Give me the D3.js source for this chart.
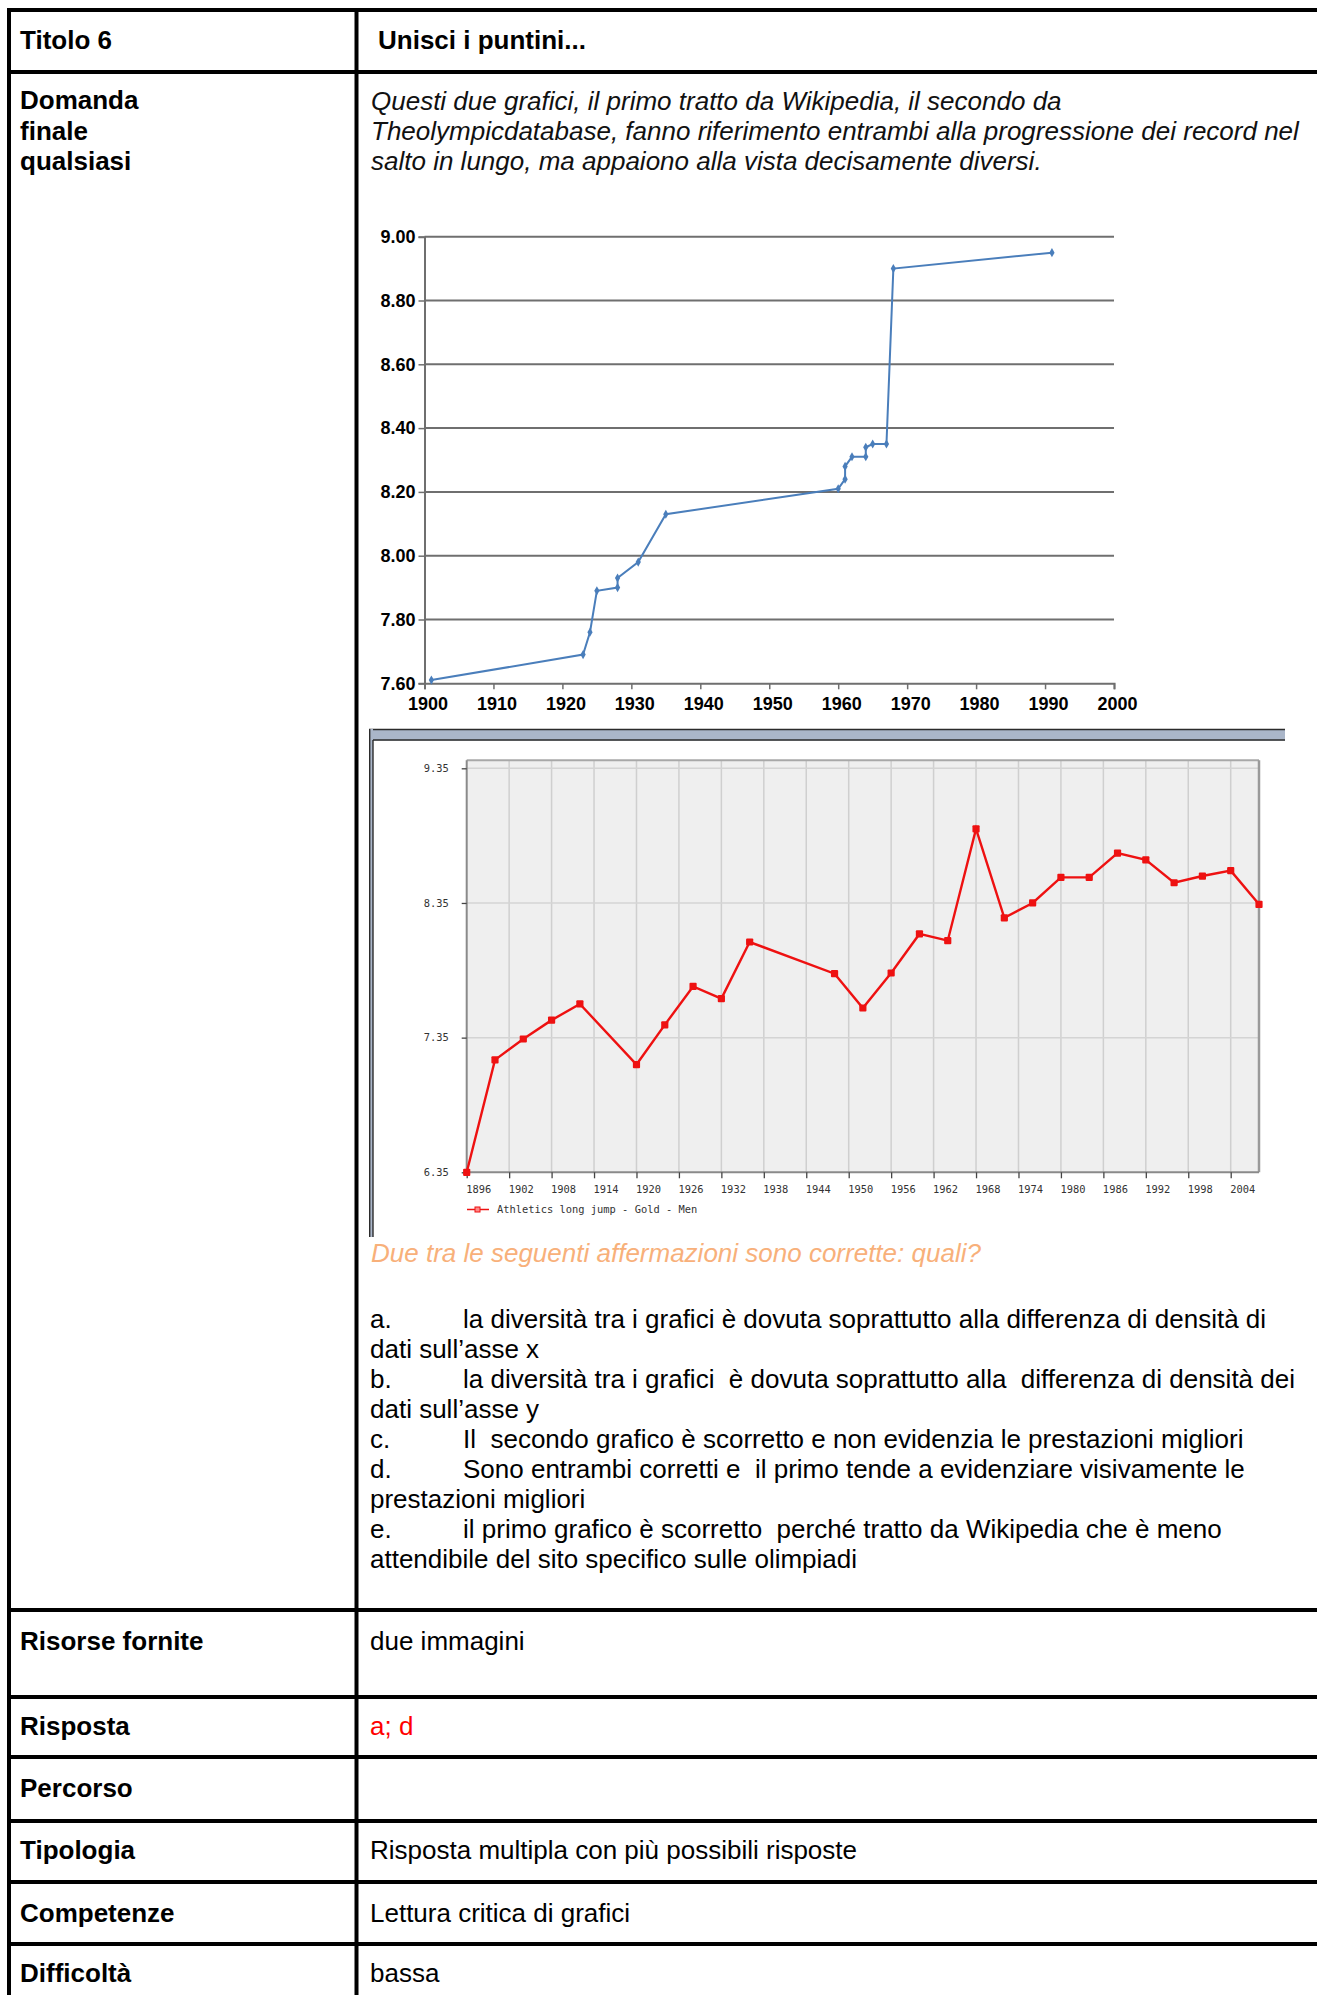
<!DOCTYPE html>
<html><head><meta charset="utf-8">
<script src="https://cdn.jsdelivr.net/npm/d3@7"></script>
<style>
html,body{margin:0;padding:0;background:#fff;}
svg text{white-space:pre;}
</style></head>
<body>
<script>
// ---------- DATA ----------
// Chart 1: world record progression (Wikipedia)
const wikiYears = [1901, 1923, 1924, 1925, 1928, 1928, 1931, 1935, 1960, 1961, 1961, 1962, 1964, 1964, 1965, 1967, 1968, 1991];
const wikiMarks = [7.61, 7.69, 7.76, 7.89, 7.90, 7.93, 7.98, 8.13, 8.21, 8.24, 8.28, 8.31, 8.31, 8.34, 8.35, 8.35, 8.90, 8.95];
const wikiYTicks = [7.6, 7.8, 8.0, 8.2, 8.4, 8.6, 8.8, 9.0];
const wikiXTicks = [1900, 1910, 1920, 1930, 1940, 1950, 1960, 1970, 1980, 1990, 2000];

// Chart 2: Olympic gold, men's long jump (Theolympicdatabase)
const olyYears = [1896, 1900, 1904, 1908, 1912, 1920, 1924, 1928, 1932, 1936, 1948, 1952, 1956, 1960, 1964, 1968, 1972, 1976, 1980, 1984, 1988, 1992, 1996, 2000, 2004, 2008];
const olyMarks = [6.35, 7.185, 7.34, 7.48, 7.60, 7.15, 7.445, 7.73, 7.64, 8.06, 7.825, 7.57, 7.83, 8.12, 8.07, 8.90, 8.24, 8.35, 8.54, 8.54, 8.72, 8.67, 8.50, 8.55, 8.59, 8.34];
const olyYTicks = [6.35, 7.35, 8.35, 9.35];
const olyXTicks = [1896, 1902, 1908, 1914, 1920, 1926, 1932, 1938, 1944, 1950, 1956, 1962, 1968, 1974, 1980, 1986, 1992, 1998, 2004];
const olyLegend = "Athletics long jump - Gold - Men";

// Table texts
const rowLabels = ["Titolo 6", "Domanda", "finale", "qualsiasi", "Risorse fornite", "Risposta", "Percorso", "Tipologia", "Competenze", "Difficoltà"];
const introLines = [
  "Questi due grafici, il primo tratto da Wikipedia, il secondo da",
  "Theolympicdatabase, fanno riferimento entrambi alla progressione dei record nel",
  "salto in lungo, ma appaiono alla vista decisamente diversi."
];
const question = "Due tra le seguenti affermazioni sono corrette: quali?";
const options = [
  ["a.", "la diversità tra i grafici è dovuta soprattutto alla differenza di densità di", "dati sull\u2019asse x"],
  ["b.", "la diversità tra i grafici  è dovuta soprattutto alla  differenza di densità dei", "dati sull\u2019asse y"],
  ["c.", "Il  secondo grafico è scorretto e non evidenzia le prestazioni migliori", null],
  ["d.", "Sono entrambi corretti e  il primo tende a evidenziare visivamente le", "prestazioni migliori"],
  ["e.", "il primo grafico è scorretto  perché tratto da Wikipedia che è meno", "attendibile del sito specifico sulle olimpiadi"]
];
const rightValues = ["due immagini", "a; d", "", "Risposta multipla con più possibili risposte", "Lettura critica di grafici", "bassa"];

// ---------- PAGE ----------
const W = 1317, H = 1995;
const FONT = "'Liberation Sans', Arial, sans-serif";
const FS = 26;
const svg = d3.select("body").append("svg").attr("width", W).attr("height", H)
  .style("display", "block");

svg.append("rect").attr("width", W).attr("height", H).attr("fill", "#fff");

// table grid
const hLines = [10, 72, 1610, 1697, 1757, 1821, 1882, 1944];
const tg = svg.append("g");
hLines.forEach(y => tg.append("line").attr("x1", 7).attr("x2", W).attr("y1", y).attr("y2", y)
  .attr("stroke", "#000").attr("stroke-width", 4));
[9, 356.5].forEach(x => tg.append("line").attr("x1", x).attr("x2", x).attr("y1", 8).attr("y2", H)
  .attr("stroke", "#000").attr("stroke-width", 4));

// left column labels
const leftBase = [49, 109, 139.5, 170, 1650, 1735, 1797, 1859, 1921.5, 1982];
rowLabels.forEach((t, i) => svg.append("text").attr("x", 20).attr("y", leftBase[i])
  .attr("font-family", FONT).attr("font-weight", "bold").attr("font-size", FS).attr("fill", "#000").text(t));

// header
svg.append("text").attr("x", 378).attr("y", 49).attr("font-family", FONT).attr("font-weight", "bold")
  .attr("font-size", FS).text("Unisci i puntini...");

// intro italic
introLines.forEach((t, i) => svg.append("text").attr("x", 371).attr("y", 110 + i * 30.2)
  .attr("font-family", FONT).attr("font-style", "italic").attr("font-size", FS).attr("fill", "#111").text(t));

// question
svg.append("text").attr("x", 371).attr("y", 1261.5).attr("font-family", FONT).attr("font-style", "italic")
  .attr("font-size", FS).attr("fill", "#f8b07a").text(question);

// options
let oy = 1328.3;
const LS = 29.9;
options.forEach(o => {
  svg.append("text").attr("x", 370).attr("y", oy).attr("font-family", FONT).attr("font-size", FS).text(o[0]);
  svg.append("text").attr("x", 463).attr("y", oy).attr("font-family", FONT).attr("font-size", FS).text(o[1]);
  oy += LS;
  if (o[2]) {
    svg.append("text").attr("x", 370).attr("y", oy).attr("font-family", FONT).attr("font-size", FS).text(o[2]);
    oy += LS;
  }
});

// right column values
const rightBase = [1650, 1735, 1797, 1859, 1921.5, 1982];
rightValues.forEach((t, i) => svg.append("text").attr("x", 370).attr("y", rightBase[i])
  .attr("font-family", FONT).attr("font-size", FS).attr("fill", i === 1 ? "#ff0000" : "#000").text(t));

// ---------- CHART 1 ----------
const c1 = svg.append("g");
const x1 = d3.scaleLinear().domain([1900, 2000]).range([424.5, 1114]);
const y1 = d3.scaleLinear().domain([7.6, 9.0]).range([683.3, 236.7]);

// gridlines
c1.append("g").selectAll("line").data(wikiYTicks.slice(1)).join("line")
  .attr("x1", x1(1900)).attr("x2", x1(2000)).attr("y1", d => y1(d)).attr("y2", d => y1(d))
  .attr("stroke", "#6f6f6f").attr("stroke-width", 2);

const ya1 = c1.append("g").attr("transform", `translate(${x1(1900)},0)`)
  .call(d3.axisLeft(y1).tickValues(wikiYTicks).tickFormat(d3.format(".2f")).tickSize(6).tickPadding(3));
const xa1 = c1.append("g").attr("transform", `translate(0,${y1(7.6)})`)
  .call(d3.axisBottom(x1).tickValues(wikiXTicks).tickFormat(d3.format("d")).tickSize(6).tickPadding(8));
[ya1, xa1].forEach(a => {
  a.select(".domain").attr("stroke", "#6f6f6f").attr("stroke-width", 2);
  a.selectAll(".tick line").attr("stroke", "#6f6f6f").attr("stroke-width", 1.5);
  a.selectAll("text").attr("font-family", FONT).attr("font-weight", "bold").attr("font-size", 18).attr("fill", "#000");
});
xa1.selectAll("text").attr("dx", 3);

const pts1 = wikiYears.map((yr, i) => [yr, wikiMarks[i]]);
c1.append("path").datum(pts1)
  .attr("d", d3.line().x(d => x1(d[0])).y(d => y1(d[1])))
  .attr("fill", "none").attr("stroke", "#4a7ebb").attr("stroke-width", 2);
c1.append("g").selectAll("path").data(pts1).join("path")
  .attr("transform", d => `translate(${x1(d[0])},${y1(d[1])})`)
  .attr("d", d3.symbol(d3.symbolDiamond, 24))
  .attr("fill", "#4a7ebb");

// ---------- CHART 2 ----------
const c2 = svg.append("g");
// screenshot frame
c2.append("rect").attr("x", 369).attr("y", 729).attr("width", 916).attr("height", 11.5).attr("fill", "#aab6c9");
c2.append("line").attr("x1", 369).attr("x2", 1285).attr("y1", 729.5).attr("y2", 729.5).attr("stroke", "#2b2b2b").attr("stroke-width", 1.5);
c2.append("line").attr("x1", 372).attr("x2", 1285).attr("y1", 740).attr("y2", 740).attr("stroke", "#2b2b2b").attr("stroke-width", 1.5);
c2.append("rect").attr("x", 369).attr("y", 729).attr("width", 4).attr("height", 508).attr("fill", "#aab6c9");
c2.append("line").attr("x1", 369.7).attr("x2", 369.7).attr("y1", 729).attr("y2", 1237).attr("stroke", "#2b2b2b").attr("stroke-width", 1.4);
c2.append("line").attr("x1", 373).attr("x2", 373).attr("y1", 740).attr("y2", 1237).attr("stroke", "#2b2b2b").attr("stroke-width", 1.4);

const x2 = d3.scaleLinear().domain([1896, 2008]).range([466.7, 1259]);
const y2 = d3.scaleLinear().domain([6.35, 9.35]).range([1172.3, 768.3]);
const top2 = y2(9.41);

c2.append("rect").attr("x", x2(1896)).attr("y", top2).attr("width", x2(2008) - x2(1896))
  .attr("height", y2(6.35) - top2).attr("fill", "#efefef");
// vertical gridlines
c2.append("g").selectAll("line").data(olyXTicks.slice(1)).join("line")
  .attr("x1", d => x2(d)).attr("x2", d => x2(d)).attr("y1", top2).attr("y2", y2(6.35))
  .attr("stroke", "#cfcfcf").attr("stroke-width", 1.5);
// horizontal gridlines
c2.append("g").selectAll("line").data(olyYTicks.slice(1)).join("line")
  .attr("x1", x2(1896)).attr("x2", x2(2008)).attr("y1", d => y2(d)).attr("y2", d => y2(d))
  .attr("stroke", "#d4d4d4").attr("stroke-width", 1.5);
// plot border
c2.append("line").attr("x1", x2(1896)).attr("x2", x2(2008)).attr("y1", top2).attr("y2", top2)
  .attr("stroke", "#a8a8a8").attr("stroke-width", 2);
c2.append("line").attr("x1", x2(2008)).attr("x2", x2(2008)).attr("y1", top2).attr("y2", y2(6.35))
  .attr("stroke", "#9a9a9a").attr("stroke-width", 2.5);

const ya2 = c2.append("g").attr("transform", `translate(${x2(1896)},0)`)
  .call(d3.axisLeft(y2).tickValues(olyYTicks).tickFormat(d3.format(".2f")).tickSize(5).tickPadding(13));
ya2.select(".domain").attr("stroke", "#8a8a8a").attr("stroke-width", 2).attr("d", `M0,${top2}V${y2(6.35)}`);
const xa2 = c2.append("g").attr("transform", `translate(0,${y2(6.35)})`)
  .call(d3.axisBottom(x2).tickValues(olyXTicks).tickFormat(d3.format("d")).tickSize(6).tickPadding(8));
xa2.select(".domain").attr("stroke", "#8a8a8a").attr("stroke-width", 2).attr("d", `M${x2(1896)},0H${x2(2008)}`);
[ya2, xa2].forEach(a => {
  a.selectAll(".tick line").attr("stroke", "#444").attr("stroke-width", 1.3);
  a.selectAll("text").attr("font-family", "'DejaVu Sans Mono', monospace").attr("font-size", 10.4).attr("fill", "#333");
});
xa2.selectAll("text").attr("text-anchor", "start").attr("x", -1).attr("dy", "0.6em");

const pts2 = olyYears.map((yr, i) => [yr, olyMarks[i]]);
c2.append("path").datum(pts2)
  .attr("d", d3.line().x(d => x2(d[0])).y(d => y2(d[1])))
  .attr("fill", "none").attr("stroke", "#ee1111").attr("stroke-width", 2.4);
c2.append("g").selectAll("rect").data(pts2).join("rect")
  .attr("x", d => x2(d[0]) - 3.6).attr("y", d => y2(d[1]) - 3.6).attr("width", 7.2).attr("height", 7.2)
  .attr("rx", 1).attr("fill", "#ee1111");

// legend
const lg = c2.append("g").attr("transform", "translate(467,1209.5)");
lg.append("line").attr("x1", 0).attr("x2", 22).attr("stroke", "#ee1111").attr("stroke-width", 1.5);
lg.append("rect").attr("x", 8).attr("y", -2.5).attr("width", 5).attr("height", 5).attr("fill", "#f88").attr("stroke", "#ee1111").attr("stroke-width", 1);
lg.append("text").attr("x", 30).attr("y", 3.6).attr("font-family", "'DejaVu Sans Mono', monospace")
  .attr("font-size", 10.4).attr("fill", "#333").text(olyLegend);
</script>
</body></html>
